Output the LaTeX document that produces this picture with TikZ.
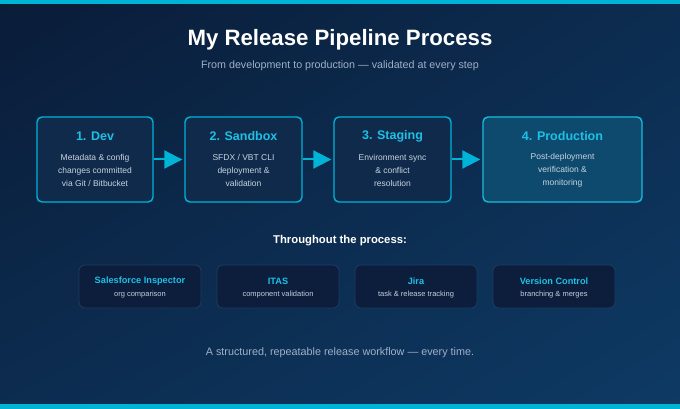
\documentclass[tikz,border=0pt]{standalone}
\usepackage{fontspec}
\setmainfont{Liberation Sans}
\usetikzlibrary{arrows.meta,positioning,shadings}

\definecolor{bgdark}{RGB}{10,28,56}
\definecolor{bgmid}{RGB}{12,44,80}
\definecolor{bglight}{RGB}{14,58,100}
\definecolor{accent}{RGB}{0,180,216}
\definecolor{headcyan}{RGB}{30,192,230}
\definecolor{stagefill}{RGB}{15,42,74}
\definecolor{prodfill}{RGB}{14,74,110}
\definecolor{toolfill}{RGB}{12,30,60}
\definecolor{toolline}{RGB}{30,60,96}
\definecolor{bodytext}{RGB}{200,212,226}
\definecolor{subtext}{RGB}{160,176,200}

\begin{document}
\begin{tikzpicture}[x=1pt,y=-1pt,
  stage/.style={draw=accent,line width=1.4pt,fill=stagefill,rounded corners=5pt,
    minimum height=85pt,inner sep=0pt},
  head/.style={text=headcyan,font=\fontsize{12.5}{14}\selectfont\bfseries},
  desc/.style={text=bodytext,align=center,font=\fontsize{8.5}{13}\selectfont},
  tool/.style={draw=toolline,line width=0.8pt,fill=toolfill,rounded corners=6pt,
    minimum width=122pt,minimum height=43pt,inner sep=0pt},
  toolname/.style={text=headcyan,font=\fontsize{9.2}{11}\selectfont\bfseries},
  toolnote/.style={text=bodytext!85!subtext,font=\fontsize{7.5}{9}\selectfont},
  flow/.style={draw=accent,line width=2pt,shorten >=2pt,
    -{Triangle[length=18pt,width=18pt]}}]

% background and bars
\useasboundingbox (0,0) rectangle (680,409);
\shade[upper left=bgdark,upper right=bgmid,lower left=bgmid,lower right=bglight]
  (0,0) rectangle (680,409);
\fill[accent] (0,0) rectangle (680,4);
\fill[accent] (0,404) rectangle (680,409);

% titles
\node[text=white,font=\fontsize{22.2}{25}\selectfont\bfseries] (title) at (340,40)
  {My Release Pipeline Process};
\node[text=subtext,font=\fontsize{10.7}{13}\selectfont] (subtitle) at (340,65.5)
  {From development to production — validated at every step};

% pipeline stages
\node[stage,minimum width=116pt] (dev) at (95,159.5) {};
\node[stage,minimum width=117pt] (sandbox) at (243.5,159.5) {};
\node[stage,minimum width=117pt] (staging) at (392.5,159.5) {};
\node[stage,minimum width=159pt,fill=prodfill,draw=accent!90!white] (prod) at (562.5,159.5) {};

\node[head] (devhead) at (95,136) {1. Dev};
\node[head] (sandboxhead) at (243.5,136) {2. Sandbox};
\node[head] (staginghead) at (392.5,136) {3. Staging};
\node[head] (prodhead) at (562.5,136) {4. Production};

\node[desc] (devtext) at (95,170) {Metadata \& config\\changes committed\\via Git / Bitbucket};
\node[desc] (sandboxtext) at (243.5,170) {SFDX / VBT CLI\\deployment \&\\validation};
\node[desc] (stagingtext) at (392.5,170) {Environment sync\\\& conflict\\resolution};
\node[desc] (prodtext) at (562.5,170) {Post-deployment\\verification \&\\monitoring};

\draw[flow] (dev.east) -- (sandbox.west);
\draw[flow] (sandbox.east) -- (staging.west);
\draw[flow] (staging.east) -- (prod.west);

% tools
\node[text=white,font=\fontsize{11.3}{13}\selectfont\bfseries] (through) at (340,241)
  {Throughout the process:};

\node[tool] (inspector) at (140,286.5) {};
\node[tool] (itas) at (278,286.5) {};
\node[tool] (jira) at (416,286.5) {};
\node[tool] (vcs) at (554,286.5) {};

\node[toolname] (inspectorname) at (140,281) {Salesforce Inspector};
\node[toolname] (itasname) at (278,281) {ITAS};
\node[toolname] (jiraname) at (416,281) {Jira};
\node[toolname] (vcsname) at (554,281) {Version Control};

\node[toolnote] (inspectornote) at (140,295) {org comparison};
\node[toolnote] (itasnote) at (278,295) {component validation};
\node[toolnote] (jiranote) at (416,295) {task \& release tracking};
\node[toolnote] (vcsnote) at (554,295) {branching \& merges};

% footer
\node[text=subtext,font=\fontsize{10.8}{13}\selectfont] (footer) at (340,352.5)
  {A structured, repeatable release workflow — every time.};
\end{tikzpicture}
\end{document}
